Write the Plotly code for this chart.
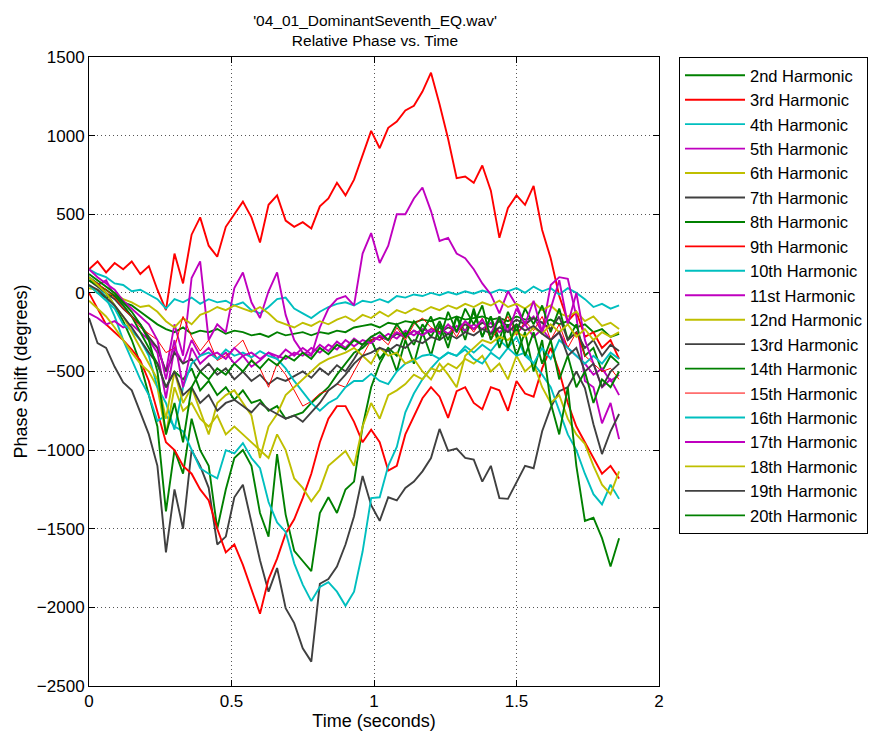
import plotly.graph_objects as go

# time axis (seconds), one sample every 0.03 s
T = [round(0.03 * i, 2) for i in range(63)]

H2 = [50, 0, -30, -10, -60, -80, -120, -160, -200,
      -230, -250, -220, -260, -240, -250, -230, -260, -240,
      -250, -270, -260, -280, -250, -270, -260, -250, -270,
      -250, -260, -240, -250, -220, -210, -200, -220, -190,
      -200, -180, -190, -170, -180, -160, -170, -150, -170,
      -160, -150, -170, -160, -180, -150, -170, -160, -190,
      -170, -200, -180, -220, -200, -250, -230, -280, -260]
H3 = [150, 200, 130, 190, 150, 200, 120, 170, 20,
      -110, 250, 60, 370, 480, 300, 230, 420, 500,
      580, 480, 320, 560, 620, 460, 420, 450, 410,
      550, 600, 700, 620, 720, 880, 1030, 920, 1050,
      1090, 1160, 1190, 1280, 1400, 1200, 980, 730, 740,
      700, 810, 650, 350, 540, 620, 560, 680, 400,
      220, -20, -180, -120, -280, -250, -350, -300, -420]
H4 = [150, 120, 100, 60, 50, 10, 20, -10, -40,
      -100, -40, -60, -30, -70, -40, -60, -50, -80,
      -60, -110, -130, -90, -40, -30, -100, -130, -160,
      -120, -90, -70, -60, -80, -50, -60, -40, -60,
      -20, -30, -10, -20, 0, -15, 5, -10, 10,
      -5, 15, 0, 20, 10, 30, 0, 40, 10,
      30, -10, 30, 0, -40, -90, -70, -100, -80]
H5 = [100, 50, 80, -20, -80, -150, -200, -300, -350,
      -500, -200, -400, 95, 200, -300, -200, -250, 30,
      130, -60, -160, 10, 130, -140, -300, -380, -400,
      -220, -100, -40, -20, -80, 250, 380, 190, 300,
      500, 500, 600, 670, 520, 330, 350, 250, 220,
      150, 60, -10, -130, 10, -80, -200, -150, -250,
      50, 100, 90, -150, -560, -600, -830, -700, -930]
H6 = [30, 20, -20, 0, -40, -60, -90, -80, -120,
      -180, -220, -160, -200, -140, -120, -90, -110, -80,
      -100, -120, -90, -130, -180, -200, -220, -190, -210,
      -180, -200, -170, -150, -180, -140, -160, -120, -150,
      -110, -130, -100, -120, -90, -110, -80, -100, -70,
      -90, -60, -80, -50, -90, -70, -100, -60, -110,
      -80, -130, -150, -120, -180, -150, -210, -190, -230]
H7 = [-160, -320, -350, -470, -570, -620, -760, -900, -1100,
      -1650, -1250, -1500, -1000, -1100, -1240, -1600, -1550, -1300,
      -1220, -1450, -1700, -1900, -1750, -2005, -2100, -2260, -2345,
      -1850, -1820, -1740, -1600, -1420, -1165, -1350, -1450, -1300,
      -1320, -1240, -1200, -1135, -1050, -865, -1005, -990, -1050,
      -1060, -1200, -1100, -1305, -1310, -1200, -1100, -1115, -880,
      -730, -625, -600, -500, -605, -835, -1025, -880, -770]
H8 = [100, 60, 0, -80, -180, -300, -450, -650, -850,
      -1390, -1000, -1150, -800, -1000, -1100, -1500, -1250, -1050,
      -1000, -1100, -1400, -1550, -1025, -1410, -1640, -1705, -1770,
      -1400, -1300, -1400, -1250, -1200, -850, -600, -450, -350,
      -400, -250, -330, -200, -280, -180, -300, -150, -250,
      -120, -280, -150, -300, -120, -250, -100, -200, -80,
      -250, -100, -300, -200, -400, -350, -500, -400, -450]
H9 = [0, -100, -200, -250, -300, -360, -430, -560, -750,
      -950, -1000, -1100, -1150, -1250, -1320, -1500, -1650, -1600,
      -1730, -1880, -2040, -1820, -1690, -1530, -1440, -1305, -1150,
      -950, -800, -720, -720, -820, -950, -870, -950, -1130,
      -1100, -900, -780, -670, -600, -660, -795, -625, -600,
      -700, -740, -600, -620, -750, -560, -640, -660, -480,
      -350, -500, -700, -850, -950, -1050, -1150, -1100, -1180]
H10 = [100, 50, -30, -150, -300, -420, -550, -650, -815,
       -780, -850, -880, -1000, -1115, -1150, -1180, -1000, -1020,
       -955, -1050, -1115, -1330, -1460, -1520, -1720, -1855, -1960,
       -1870, -1840, -1900, -1990, -1900, -1645, -1305, -1300, -1100,
       -980, -760, -640, -550, -480, -420, -380, -400, -340,
       -380, -330, -370, -300, -350, -280, -400, -450, -520,
       -600, -750, -900, -1000, -1150, -1280, -1345, -1220, -1310]
H11 = [-130, -160, -200, -180, -220, -200, -250, -300, -380,
       -670, -350, -450, -300, -400, -350, -420, -380, -450,
       -400, -470, -430, -380, -420, -360, -400, -350, -390,
       -330, -370, -310, -350, -290, -330, -280, -300, -260,
       -290, -240, -270, -230, -250, -220, -260, -210, -240,
       -200, -230, -190, -250, -210, -260, -200, -280, -230,
       -300, -250, -350, -400, -450, -520, -480, -560, -520]
H12 = [-50, -100, -150, -220, -300, -380, -450, -500, -600,
       -900, -600, -750, -700, -800, -850, -780, -900, -850,
       -900, -950, -1000, -1050, -900, -1000, -1180, -1240, -1325,
       -1250, -1100, -1050, -1005, -1100, -850, -700, -800, -650,
       -620, -580, -520, -550, -480, -500, -450, -480, -420,
       -450, -400, -500, -450, -550, -400, -500, -450, -600,
       -700, -650, -800, -900, -960, -1100, -1220, -1280, -1135]
H13 = [80, 40, 0, -40, -100, -150, -200, -280, -350,
       -500, -380, -450, -420, -500, -450, -520, -480, -550,
       -500, -560, -520, -580, -540, -560, -530, -500, -540,
       -480, -520, -460, -500, -420, -330, -300, -280, -300,
       -260, -280, -240, -270, -230, -250, -220, -240, -200,
       -230, -190, -220, -180, -210, -170, -200, -160, -190,
       -230, -150, -300, -250, -350, -300, -400, -330, -370]
H14 = [80, 50, 20, -20, -80, -150, -250, -350, -450,
       -600, -500, -550, -480, -620, -560, -650, -600, -680,
       -620, -700, -680, -750, -720, -800, -780, -760, -700,
       -650, -600, -520, -450, -380, -350, -300, -420, -350,
       -500, -300, -450, -250, -400, -200, -350, -150, -300,
       -100, -280, -150, -350, -200, -400, -250, -500, -300,
       -700, -900, -600, -1100, -1450, -1430, -1560, -1740, -1560]
H15 = [100, 60, 20, -30, -100, -150, -220, -260, -300,
       -380, -350, -150, -280, -370, -300, -430, -400, -350,
       -300, -420, -480, -600, -450, -520, -620, -720, -690,
       -640, -620, -580, -600, -500, -400, -300, -280, -330,
       -220, -300, -200, -160, -220, -250, -200, -280, -180,
       -250, -160, -300, -220, -150, -270, -180, -240, -150,
       -300, -200, -350, -250, -400, -450, -500, -480, -550]
H16 = [50, 0, -50, -100, -200, -240, -300, -400, -600,
       -700, -870, -600, -450, -400, -380, -420, -360, -400,
       -380, -410, -370, -400, -420, -480, -560, -630, -700,
       -750, -700, -670, -600, -560, -560, -515, -560, -580,
       -500, -450, -430, -400, -390, -420, -380, -400, -360,
       -420, -450, -380, -420, -350, -400, -380, -450, -350,
       -420, -300, -350, -400, -450, -400, -450, -380, -420]
H17 = [150, 100, 60, 20, -50, -100, -150, -200, -300,
       -550, -300, -600, -350, -450, -400, -380, -420, -350,
       -400, -380, -420, -380, -400, -420, -380, -400, -350,
       -380, -330, -360, -300, -340, -300, -320, -270, -300,
       -250, -280, -240, -270, -230, -260, -200, -250, -180,
       -230, -170, -260, -150, -250, -100, -200, -50, -250,
       -100, 80, -200, 0, -300, -450, -600, -550, -650]
H18 = [100, 50, 0, -80, -150, -250, -350, -450, -550,
       -800, -500, -700, -600, -750, -900, -700, -650, -620,
       -700, -780, -1050, -850, -770, -650, -600, -550, -500,
       -450, -420, -400, -380, -350, -400, -450, -350, -400,
       -380, -450, -420, -500, -550, -450, -520, -600, -400,
       -350, -300, -320, -280, -300, -250, -280, -220, -260,
       -200, -250, -200, -280, -230, -300, -250, -280, -250]
H19 = [50, 20, -30, -80, -150, -220, -300, -380, -450,
       -600, -500, -650, -600, -700, -650, -750, -700, -680,
       -720, -760, -700, -740, -770, -800, -780, -820, -760,
       -700, -620, -580, -520, -450, -400, -380, -350, -370,
       -330, -350, -300, -320, -280, -300, -260, -290, -250,
       -270, -230, -260, -220, -250, -200, -240, -210, -260,
       -300, -250, -400, -350, -500, -450, -600, -500, -450]
H20 = [120, 80, 40, 0, -60, -120, -200, -300, -500,
       -900, -700, -950, -600, -500, -550, -480, -520, -450,
       -500, -430, -480, -420, -460, -400, -430, -380, -420,
       -350, -390, -330, -360, -300, -330, -280, -250, -300,
       -200, -280, -180, -250, -150, -300, -120, -250, -100,
       -200, -80, -300, -150, -350, -200, -400, -250, -450,
       -300, -550, -400, -600, -500, -700, -550, -600, -500]

NAMES = ["2nd", "3rd", "4th", "5th", "6th", "7th", "8th", "9th", "10th", "11st",
         "12nd", "13rd", "14th", "15th", "16th", "17th", "18th", "19th", "20th"]
SERIES = [H2, H3, H4, H5, H6, H7, H8, H9, H10, H11,
          H12, H13, H14, H15, H16, H17, H18, H19, H20]
CYCLE = ["#008000", "#ff0000", "#00bfbf", "#bf00bf", "#bfbf00", "#404040"]

fig = go.Figure()
for k, (nm, vals) in enumerate(zip(NAMES, SERIES)):
    w = 1.0 if nm == "15th" else 1.9
    fig.add_trace(go.Scatter(
        x=T, y=vals, mode="lines", name=nm + " Harmonic",
        line=dict(color=CYCLE[k % 6], width=w)))

# page geometry (pixels): plot area x 89..659, y 57..686
W, H = 877, 738
ML, MR, MT, MB = 89, 0, 57, 52
PW = W - ML - MR
X_END = (659 - ML) / PW
LEG_X = (679 - ML) / PW

FONT = "Liberation Sans, Arial, sans-serif"
axis_common = dict(
    showline=True, linecolor="black", linewidth=1, mirror="ticks",
    ticks="inside", ticklen=6, tickcolor="black",
    showgrid=True, gridcolor="#555555", griddash="1px,3px", gridwidth=1,
    zeroline=False, tickfont=dict(size=17, color="black", family=FONT),
    automargin=False,
)
fig.update_layout(
    width=W, height=H,
    margin=dict(l=ML, r=MR, t=MT, b=MB, autoexpand=False),
    paper_bgcolor="white", plot_bgcolor="white",
    font=dict(family=FONT, color="black"),
    title=dict(text="'04_01_DominantSeventh_EQ.wav'<br>Relative Phase vs. Time",
               xref="container", x=(375 / W), xanchor="center",
               yref="container", y=1 - 26 / H, yanchor="middle",
               font=dict(size=15.5, color="black")),
    xaxis=dict(domain=[0, X_END], range=[0, 2], tickvals=[0, 0.5, 1, 1.5, 2],
               ticktext=["0", "0.5", "1", "1.5", "2"],
               title=dict(text="Time (seconds)", font=dict(size=18), standoff=2),
               **axis_common),
    yaxis=dict(range=[-2500, 1500], tickvals=list(range(-2500, 1501, 500)),
               title=dict(text="Phase Shift (degrees)", font=dict(size=18), standoff=4),
               **axis_common),
    legend=dict(x=LEG_X, y=1.0, xanchor="left", yanchor="top",
                bordercolor="black", borderwidth=1, bgcolor="white",
                font=dict(size=16.5, color="black"), itemwidth=60,
                tracegroupgap=0),
    showlegend=True,
)
fig.write_html("out.html")
